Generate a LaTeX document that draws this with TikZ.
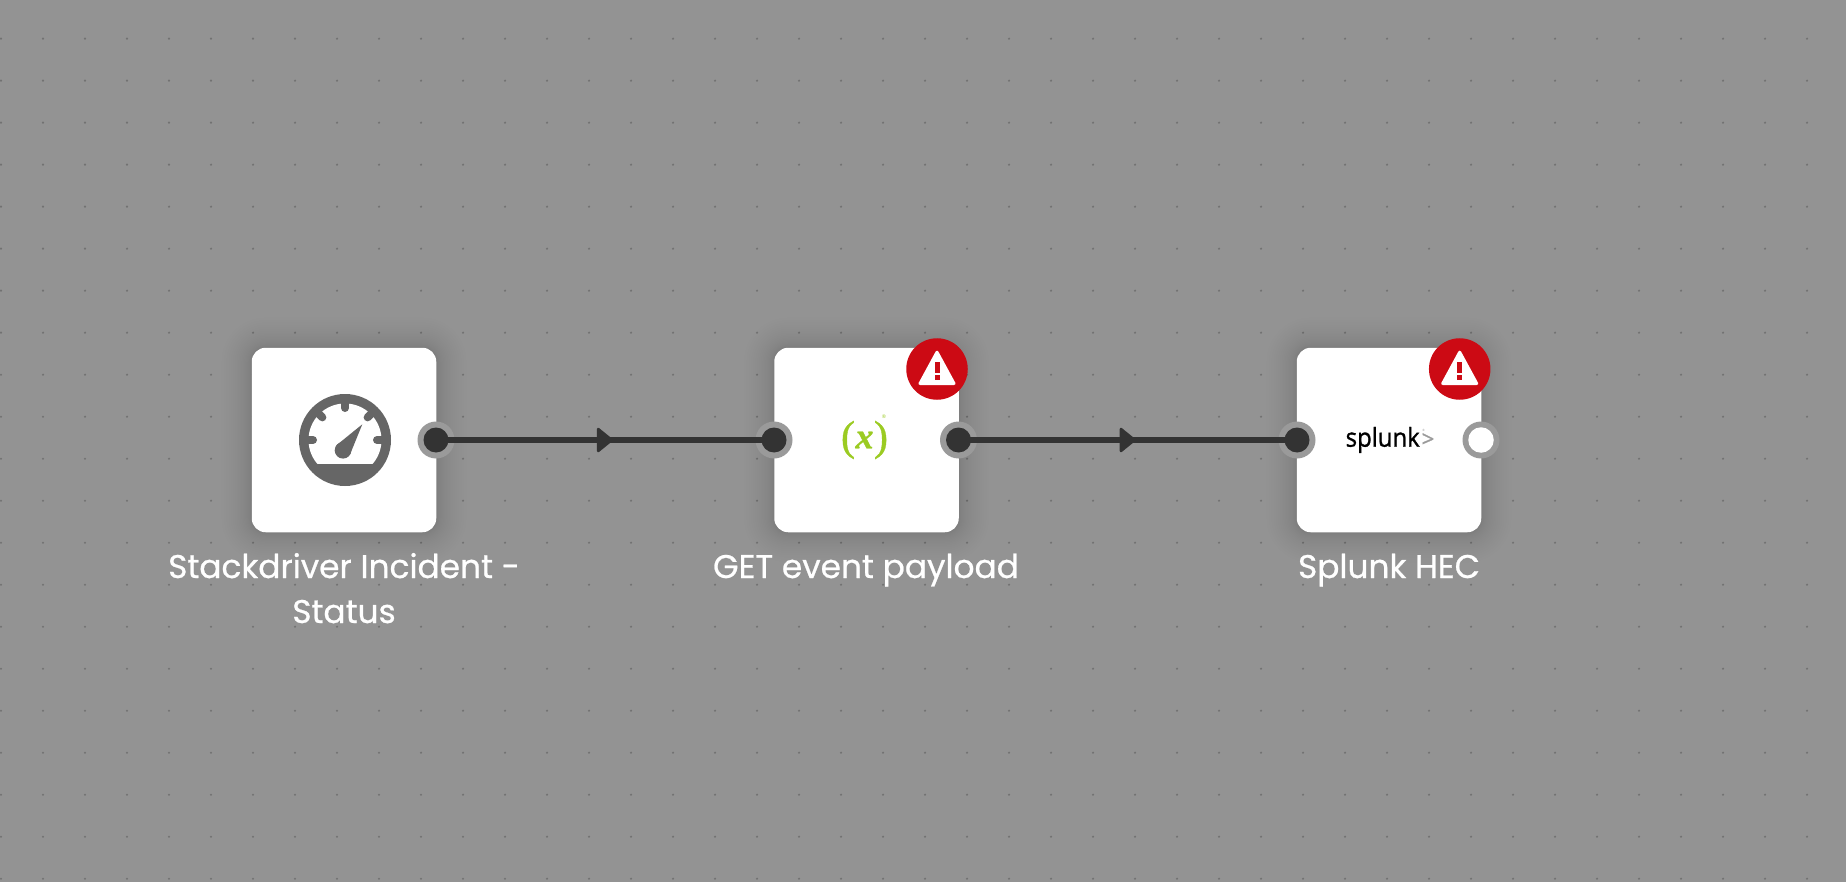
\documentclass[tikz,border=0pt]{standalone}
\usepackage{fontspec}
\setmainfont{Poppins}
\newfontfamily\labelfont[FakeBold=0.7]{Poppins}
\newfontfamily\logofont[FakeBold=1.2]{Open Sans}
\newfontfamily\logothin{Open Sans}
\newfontfamily\varfont[FakeBold=0.8]{Liberation Serif}
\usetikzlibrary{decorations.markings}
\definecolor{canvas}{HTML}{939393}
\definecolor{griddot}{HTML}{727272}
\definecolor{wirecol}{HTML}{333333}
\definecolor{ringcol}{HTML}{9A9A9A}
\definecolor{gaugecol}{HTML}{666666}
\definecolor{alertred}{HTML}{CC0A14}
\definecolor{vargreen}{HTML}{9BCB22}
\definecolor{logogray}{HTML}{9A9A9A}
\tikzset{
  x=1pt,y=-1pt,
  cardbox/.style={draw=none,fill=white,rounded corners=14pt,minimum size=184.5pt,inner sep=0pt,outer sep=0pt},
  portring/.style={circle,draw=none,fill=ringcol,minimum size=37pt,inner sep=0pt,outer sep=0pt},
  portdot/.style={circle,draw=none,fill=wirecol,minimum size=25pt,inner sep=0pt,outer sep=0pt},
  portopen/.style={circle,draw=none,fill=white,minimum size=25.5pt,inner sep=0pt,outer sep=0pt},
  wire/.style={draw=wirecol,line width=6pt,postaction={decorate},decoration={markings,mark=at position 0.5 with {
      \fill[wirecol,draw=wirecol,line width=2.5pt,line join=round] (-6.8,-11) -- (-6.8,11) -- (6.8,0) -- cycle;}}},
  cardlabel/.style={text=white,align=center,inner sep=0pt,font=\labelfont\fontsize{32.8}{45}\selectfont},
  varglyph/.style={text=vargreen,inner sep=0pt,font=\varfont\fontsize{42}{42}\selectfont},
  warnbadge/.pic={
    \node[circle,fill=alertred,minimum size=61.5pt,inner sep=0pt,outer sep=0pt] {};
    \fill[white,draw=white,line width=3pt,line join=round] (0,-16.8) -- (17,14.5) -- (-17,14.5) -- cycle;
    \fill[alertred] (-2.5,-6.7) rectangle (2.5,4.3);
    \fill[alertred] (-2.5,6) rectangle (2.5,11);
  },
}
\begin{document}
\begin{tikzpicture}
\useasboundingbox (0,0) rectangle (1846,882);
\fill[canvas] (0,0) rectangle (1846,882);
% dot grid
\foreach \i in {0,...,43}{
  \foreach \j in {0,...,20}{
    \fill[griddot] ({1+42*\i},{38.7+42*\j}) circle (1.2pt);
  }
}
% soft card shadows
\foreach \cx in {344,866.5,1389}{
  \foreach \g in {1,...,24}{
    \pgfmathsetmacro{\off}{\g*\g/19}
    \fill[black,opacity=0.004,rounded corners={14pt+\off*1pt}]
      ({\cx-92.25-\off},{440-92.25-\off}) rectangle ({\cx+92.25+\off},{440+92.25+\off});
  }
}
% cards
\node[cardbox] (card1) at (344,440) {};
\node[cardbox] (card2) at (866.5,440) {};
\node[cardbox] (card3) at (1389,440) {};
% gauge icon
\begin{scope}[shift={(345,440)}]
  \fill[gaugecol] (0,0) circle (46);
  \begin{scope}
    \clip (-50,-50) rectangle (50,23);
    \fill[white] (0,0) circle (36.5);
  \end{scope}
  \foreach \a in {0,45,90,135,180}{
    \draw[gaugecol,line width=8pt,line cap=round] ({38*cos(\a)},{-38*sin(\a)}) -- ({32*cos(\a)},{-32*sin(\a)});
  }
  \fill[gaugecol] (-2,10.3) circle (8.3);
  \fill[gaugecol] (17.3,-15.7) -- (4.7,15.2) -- (-8.7,5.4) -- cycle;
\end{scope}
% variable icon
\node[varglyph] (varopen) at (848,440) {(};
\node[varglyph] (varclose) at (881,440) {)};
\node[text=vargreen,inner sep=0pt,font=\varfont\bfseries\itshape\fontsize{36}{36}\selectfont] (varx) at (864.5,440) {x};
\node[text=vargreen,inner sep=0pt,font=\logothin\fontsize{5}{5}\selectfont] (varreg) at (884,416.5) {®};
% splunk logo
\node[text=black,inner sep=0pt,anchor=base west,xscale=0.92,transform shape,font=\logofont\fontsize{26}{26}\selectfont] (splunkword) at (1345.5,446.7) {splunk};
\node[text=logogray,inner sep=0pt,font=\logofont\fontsize{22}{22}\selectfont] (splunkgt) at (1428,440) {>};
\node[text=logogray,inner sep=0pt,font=\logothin\fontsize{3}{3}\selectfont] (splunkreg) at (1423.7,430) {®};
% ports
\node[portring] (ring1) at (436,440) {};
\node[portring] (ring2a) at (774,440) {};
\node[portring] (ring2b) at (958.5,440) {};
\node[portring] (ring3a) at (1297,440) {};
\node[portring] (ring3b) at (1481,440) {};
% connectors
\draw[wire] (ring1.center) -- (ring2a.center);
\draw[wire] (ring2b.center) -- (ring3a.center);
\node[portdot] (out1) at (ring1.center) {};
\node[portdot] (in2) at (ring2a.center) {};
\node[portdot] (out2) at (ring2b.center) {};
\node[portdot] (in3) at (ring3a.center) {};
\node[portopen] (out3) at (ring3b.center) {};
% warning badges
\pic at (937,369) {warnbadge};
\pic at (1459.7,369) {warnbadge};
% labels
\node[cardlabel,anchor=base] (label1) at (344,578) {Stackdriver Incident -};
\node[cardlabel,anchor=base] (label1b) at (344,623) {Status};
\node[cardlabel,anchor=base] (label2) at (866,578) {GET event payload};
\node[cardlabel,anchor=base] (label3) at (1389,578) {Splunk HEC};
\end{tikzpicture}
\end{document}
